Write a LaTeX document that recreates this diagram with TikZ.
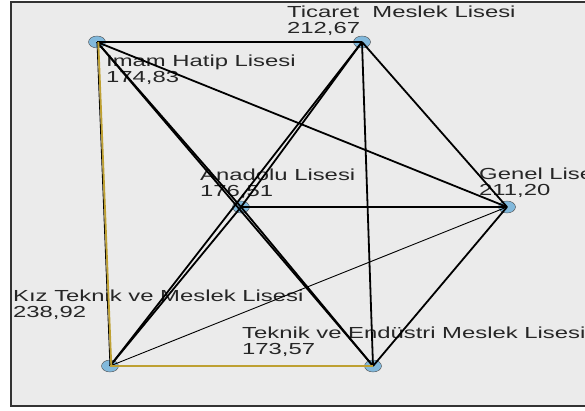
\documentclass[tikz,border=0pt]{standalone}
\usepackage{fontspec}
\setmainfont{Liberation Sans}
\newfontfamily\spssfont[FakeStretch=1.49]{Liberation Sans}
\usetikzlibrary{shapes.geometric}
\definecolor{zemin}{RGB}{235,235,235}
\definecolor{nokta}{RGB}{130,185,220}
\definecolor{hardal}{RGB}{190,160,50}
\begin{document}
\begin{tikzpicture}[x=1pt,y=-1pt,
  okulnokta/.style={draw=black!70,fill=nokta,ellipse,minimum width=17pt,minimum height=12pt,inner sep=0pt},
  etiket/.style={anchor=base west,inner sep=0pt,text=black!85,font=\spssfont\fontsize{16}{16}\selectfont},
  kenar/.style={draw,line width=1.8pt},
  ince/.style={draw,line width=0.9pt},
  sari/.style={draw=hardal,line width=1.8pt}]
\useasboundingbox (0,0) rectangle (585,410);
\clip (0,0) rectangle (585,410);
\path[fill=zemin,draw=black!80,line width=2pt] (11,2) rectangle (600,405.5);
\newcommand\okul[7]{
\node[okulnokta] (#1) at (#2,#3) {};
\node[etiket] (#1-ad) at (#4,#5) {#6};
\node[etiket] (#1-puan) at (#4,#5+16) {#7};
}
\okul{imam}{97}{42}{106}{66}{Imam Hatip Lisesi}{174,83}
\okul{ticaret}{362}{42}{287}{17}{Ticaret\ \ Meslek Lisesi}{212,67}
\okul{anadolu}{241}{207}{200}{180}{Anadolu Lisesi}{176,51}
\okul{genel}{507}{207}{479}{179}{Genel Lisesi}{211,20}
\okul{kiz}{110}{366}{13}{301}{Kız Teknik ve Meslek Lisesi}{238,92}
\okul{teknik}{373}{366}{242}{338}{Teknik ve Endüstri Meslek Lisesi}{173,57}
% kenarlar
\path[kenar] (imam.center) -- (ticaret.center);
\path[kenar] (imam.center) -- (genel.center);
\path[kenar] (imam.center) -- (anadolu.center);
\path[kenar] (anadolu.center) -- (teknik.center);
\path[kenar] (imam.center) -- (teknik.center);
\path[kenar] (ticaret.center) -- (anadolu.center);
\path[kenar] (anadolu.center) -- (kiz.center);
\path[kenar] (ticaret.center) -- (kiz.center);
\path[kenar] (ticaret.center) -- (teknik.center);
\path[kenar] (ticaret.center) -- (genel.center);
\path[kenar] (anadolu.center) -- (genel.center);
\path[kenar] (genel.center) -- (teknik.center);
\path[ince] (kiz.center) -- (genel.center);
\path[ince] (imam.center) -- (kiz.center);
\path[sari,transform canvas={xshift=1.3pt}] (imam.center) -- (kiz.center);
\path[sari] (kiz.center) -- (teknik.center);
\end{tikzpicture}
\end{document}
